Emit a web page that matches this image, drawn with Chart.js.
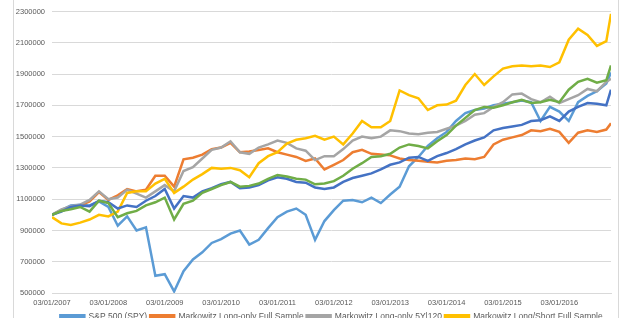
<!DOCTYPE html>
<html>
<head>
<meta charset="utf-8">
<script src="https://cdn.jsdelivr.net/npm/chart.js@4"></script>
<style>
  html, body { margin: 0; padding: 0; background: #fff; overflow: hidden; }
  #frame { position: absolute; left: 13px; top: 0; width: 604px; height: 350px;
           border-left: 1px solid #d9d9d9; border-right: 1px solid #d9d9d9; }
  #wrap { position: absolute; left: 0; top: 0; width: 638px; height: 342px; }
</style>
</head>
<body>
<div id="frame"></div>
<div id="wrap"><canvas id="perfChart" width="638" height="342"></canvas></div>
<script>
// months since 03/01/2007, roughly every two months
const months = [0, 2, 4, 6, 8, 10, 12, 14, 16, 18, 20, 22, 24, 26, 28, 30, 32, 34, 36, 38,
  40, 42, 44, 46, 48, 50, 52, 54, 56, 58, 60, 62, 64, 66, 68, 70, 72, 74, 76, 78,
  80, 82, 84, 86, 88, 90, 92, 94, 96, 98, 100, 102, 104, 106, 108, 110, 112, 114, 116, 118, 119];

const seriesNames = ['S&P 500 (SPY)', 'Markowitz Long-only Full Sample', 'Markowitz Long-only 5Y|120',
  'Markowitz Long/Short Full Sample', 'Minimum Variance 5Y|120', 'Equal Weight'];

// values in thousands of dollars
const spy = [1000, 1030, 1060, 1065, 1060, 1085, 1050, 930, 990, 900, 920, 610, 620, 510, 640, 715, 760, 820, 845, 880,
  900, 810, 840, 915, 985, 1020, 1040, 1000, 840, 960, 1030, 1090, 1095, 1080, 1110, 1075, 1130, 1180, 1310, 1370,
  1440, 1490, 1530, 1600, 1650, 1670, 1680, 1700, 1710, 1720, 1730, 1720, 1600, 1690, 1660, 1600, 1720, 1760, 1790, 1840, 1910];
const fullSample = [1000, 1030, 1050, 1060, 1085, 1145, 1095, 1125, 1165, 1150, 1160, 1250, 1250, 1180, 1355, 1365, 1385, 1420, 1430, 1460,
  1400, 1405, 1415, 1425, 1400, 1385, 1370, 1345, 1360, 1290, 1320, 1350, 1400, 1415, 1390, 1385, 1380, 1360, 1350, 1345,
  1340, 1335, 1345, 1350, 1360, 1355, 1370, 1450, 1480, 1495, 1510, 1540, 1535, 1550, 1530, 1460, 1525, 1540, 1530, 1545, 1585];
const roll120 = [1000, 1035, 1055, 1065, 1095, 1150, 1100, 1110, 1160, 1135, 1110, 1150, 1190, 1150, 1280, 1305, 1360, 1415, 1430, 1470,
  1400, 1390, 1430, 1450, 1475, 1460, 1425, 1410, 1350, 1375, 1375, 1420, 1475, 1500, 1490, 1500, 1540, 1535, 1520, 1515,
  1525, 1530, 1550, 1570, 1600, 1640, 1650, 1690, 1720, 1770, 1775, 1740, 1720, 1755, 1715, 1740, 1765, 1805, 1790, 1850, 1870];
const longShort = [985, 945, 935, 950, 970, 1000, 990, 1020, 1140, 1150, 1150, 1200, 1230, 1140, 1180, 1225, 1260, 1300, 1295, 1300,
  1285, 1240, 1330, 1375, 1400, 1455, 1480, 1490, 1505, 1480, 1500, 1450, 1520, 1600, 1560, 1560, 1600, 1795, 1765, 1745,
  1670, 1700, 1705, 1730, 1830, 1900, 1830, 1885, 1935, 1950, 1955, 1950, 1955, 1945, 1975, 2120, 2190, 2150, 2080, 2110, 2285];
const minVar = [1000, 1020, 1050, 1060, 1055, 1090, 1080, 1040, 1060, 1050, 1090, 1120, 1165, 1040, 1120, 1110, 1150, 1170, 1195, 1210,
  1170, 1175, 1190, 1220, 1240, 1230, 1210, 1205, 1175, 1165, 1175, 1210, 1235, 1250, 1265, 1290, 1320, 1335, 1365, 1370,
  1345, 1375, 1395, 1420, 1450, 1475, 1495, 1540, 1555, 1565, 1575, 1600, 1605, 1630, 1600, 1660, 1690, 1715, 1710, 1700, 1800];
const equalWeight = [1000, 1025, 1035, 1050, 1020, 1090, 1075, 985, 1010, 1025, 1060, 1080, 1110, 970, 1070, 1090, 1140, 1165, 1190, 1210,
  1180, 1185, 1200, 1230, 1255, 1245, 1230, 1225, 1195, 1200, 1215, 1250, 1295, 1330, 1370, 1375, 1390, 1430, 1450, 1440,
  1425, 1470, 1510, 1570, 1620, 1670, 1690, 1685, 1700, 1720, 1735, 1715, 1720, 1735, 1720, 1800, 1850, 1870, 1845, 1860, 1955];

const allSeries = [spy, fullSample, roll120, longShort, minVar, equalWeight];
const colors = ['#5B9BD5', '#ED7D31', '#A5A5A5', '#FFC000', '#4472C4', '#70AD47'];

const ctx = document.getElementById('perfChart').getContext('2d');

const perfChart = new Chart(ctx, {
    type: 'line',
    data: {
        datasets: allSeries.map((vals, i) => ({
            label: seriesNames[i],
            data: vals.map((v, j) => ({ x: months[j], y: v * 1000 })),
            borderColor: colors[i],
            backgroundColor: colors[i],
            borderWidth: 2.5,
            pointRadius: 0,
            tension: 0,
            order: allSeries.length - i
        }))
    },
    options: {
        responsive: false,
        animation: false,
        layout: { padding: { top: 11, right: 27, left: 0, bottom: 0 } },
        plugins: {
            tooltip: { enabled: false },
            legend: {
                position: 'bottom',
                fullSize: false,
                labels: {
                    boxWidth: 24,
                    boxHeight: 2,
                    padding: 3,
                    color: '#595959',
                    font: { family: 'Liberation Sans', size: 8.5 },
                    sort: (a, b) => a.datasetIndex - b.datasetIndex
                }
            }
        },
        scales: {
            x: {
                type: 'linear',
                min: 0,
                max: 119,
                afterFit: (s) => { s.height = 16; },
                afterBuildTicks: (s) => { s.ticks = s.ticks.filter(t => t.value % 12 === 0); },
                grid: { display: false, drawTicks: false },
                border: { color: '#d9d9d9' },
                ticks: {
                    stepSize: 12,
                    autoSkip: false,
                    padding: 5,
                    maxRotation: 0,
                    color: '#595959',
                    font: { family: 'Liberation Sans', size: 7.5 },
                    callback: (v) => '03/01/' + (2007 + v / 12)
                }
            },
            y: {
                min: 500000,
                max: 2300000,
                afterFit: (s) => { s.width = 52; },
                grid: { color: '#d9d9d9', drawTicks: false },
                border: { display: false },
                ticks: {
                    stepSize: 200000,
                    padding: 7,
                    color: '#595959',
                    font: { family: 'Liberation Sans', size: 7.5 },
                    callback: (v) => String(v)
                }
            }
        }
    }
});
</script>
</body>
</html>
